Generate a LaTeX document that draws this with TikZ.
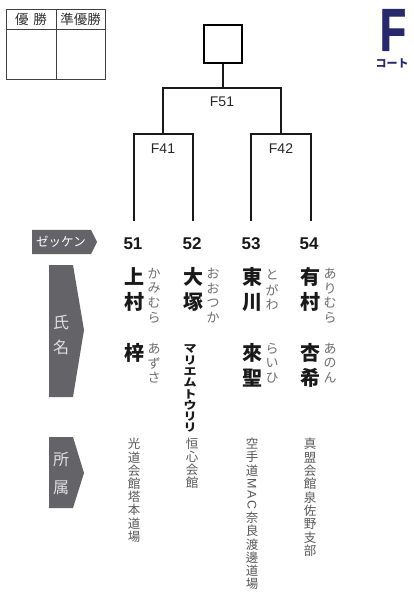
\documentclass[tikz,border=0pt]{standalone}
\usepackage{fontspec}
\setmainfont{Liberation Sans}
\newfontfamily\jp{Noto Sans CJK JP}
\newfontfamily\fbig[FakeBold=1.6]{Liberation Sans Bold}
\definecolor{tagg}{HTML}{636368}
\definecolor{navy}{HTML}{28286C}
\definecolor{furig}{HTML}{6E6E6E}
\definecolor{affg}{HTML}{585858}
\newcommand\vchars[6]{\foreach \vchr [count=\vn from 0] in {#6}{\node[#5] (#1\vn) at (#2,{#3+\vn*#4}) {\vchr};}}
\newcommand\vcharsk[6]{\foreach \vchr [count=\vn from 0] in {#6}{\node[#5] (#1\vn) at (#2,{#3+\vn*#4}) {\scalebox{1}[0.84]{\vchr}};}}
\begin{document}
\begin{tikzpicture}[x=1pt,y=-1pt,
  br/.style={line width=1.8pt, black!90, line join=miter},
  tbl/.style={line width=0.9pt, black!75},
  kan/.style={inner sep=0, font=\jp\bfseries\fontsize{20}{20}\selectfont, text=black!90},
  furi/.style={inner sep=0, font=\jp\fontsize{13}{13}\selectfont, text=furig},
  kata/.style={inner sep=0, font=\jp\bfseries\fontsize{13}{13}\selectfont, text=black!90},
  aff/.style={inner sep=0, font=\jp\fontsize{12.5}{12.5}\selectfont, text=affg},
  num/.style={inner sep=0, font=\bfseries\fontsize{17}{17}\selectfont, text=black!90},
  rnd/.style={inner sep=0, font=\fontsize{14}{14}\selectfont, text=black!85},
  tagtxt/.style={inner sep=0, font=\jp\fontsize{16}{16}\selectfont, text=black!12},
  hdr/.style={inner sep=0, font=\jp\fontsize{13.5}{13.5}\selectfont, text=black!80},
]
\useasboundingbox (0,0) rectangle (414,593);
% result table
\draw[tbl] (6,9) rectangle (105,79);
\draw[tbl] (6,29) -- (105,29);
\draw[tbl] (56,9) -- (56,79);
\node[hdr] (h1) at (31,19) {優\hspace{5pt}勝};
\node[hdr] (h2) at (80.5,19) {準優勝};
% court logo
\node[inner sep=0, font=\fbig\fontsize{60}{60}\selectfont, text=navy] (court) at (393,30) {\scalebox{0.72}[1]{F}};
\node[inner sep=0, font=\jp\bfseries\fontsize{11}{11}\selectfont, text=navy] (courtlbl) at (392,63) {コート};
% bracket
\node[draw, line width=1.4pt, minimum size=38pt, inner sep=0] (champ) at (223,44) {};
\coordinate (j51) at (223,88);
\coordinate (j41) at (163,134);
\coordinate (j42) at (281,134);
\coordinate (b51) at (134,221);
\coordinate (b52) at (193,221);
\coordinate (b53) at (251,221);
\coordinate (b54) at (311,221);
\draw[br] (champ.south) -- (j51);
\draw[br] (j41) |- (j51) -| (j42);
\draw[br] (b51) |- (j41) -| (b52);
\draw[br] (b53) |- (j42) -| (b54);
\node[rnd] (r51) at (222,102) {F51};
\node[rnd] (r41) at (163,149) {F41};
\node[rnd] (r42) at (281,149) {F42};
% tags
\fill[tagg] (32,230) -- (91,230) -- (97,242) -- (91,254) -- (32,254) -- cycle;
\node[inner sep=0, font=\jp\fontsize{12.5}{12.5}\selectfont, text=white] (tz) at (61,242) {ゼッケン};
\fill[tagg] (49,265) -- (73,265) -- (84,330) -- (73,397) -- (49,397) -- cycle;
\node[tagtxt] (ts1) at (61,322) {氏};
\node[tagtxt] (ts2) at (61,347) {名};
\fill[tagg] (49,437) -- (73,437) -- (84,473) -- (73,508) -- (49,508) -- cycle;
\node[tagtxt] (tq1) at (61,460) {所};
\node[tagtxt] (tq2) at (61,488) {属};
% numbers
\node[num] (n51) at (133,244) {51};
\node[num] (n52) at (192,244) {52};
\node[num] (n53) at (251,244) {53};
\node[num] (n54) at (309,244) {54};
% names
\vchars{k51a}{134}{277}{25}{kan}{上,村}
\vchars{k51b}{134}{353}{25}{kan}{梓}
\vchars{f51a}{154}{274}{14.5}{furi}{か,み,む,ら}
\vchars{f51b}{154}{349}{14.5}{furi}{あ,ず,さ}
\vchars{k52a}{193}{277}{25}{kan}{大,塚}
\vchars{f52a}{213}{274}{14.5}{furi}{お,お,つ,か}
\vcharsk{k52b}{190}{349}{11.25}{kata}{マ,リ,エ,ム,ト,ウ,リ,リ}
\vchars{k53a}{252}{277}{25}{kan}{東,川}
\vchars{f53a}{272}{275}{15}{furi}{と,が,わ}
\vchars{k53b}{252}{353}{25}{kan}{來,聖}
\vchars{f53b}{272}{349}{14.5}{furi}{ら,い,ひ}
\vchars{k54a}{310}{277}{25}{kan}{有,村}
\vchars{f54a}{330}{274}{14.5}{furi}{あ,り,む,ら}
\vchars{k54b}{310}{353}{25}{kan}{杏,希}
\vchars{f54b}{330}{349}{14.5}{furi}{あ,の,ん}
% affiliations
\vchars{a51}{134}{444}{13.2}{aff}{光,道,会,館,塔,本,道,場}
\vchars{a52}{192}{443.5}{13}{aff}{恒,心,会,館}
\vchars{a53a}{252}{444}{13.2}{aff}{空,手,道}
\node[aff, font=\fontsize{12.5}{12.5}\selectfont, rotate=-90] (a53m) at (252,494) {M\,A\,C};
\vchars{a53b}{252}{518}{13.2}{aff}{奈,良,渡,邊,道,場}
\vchars{a54}{310}{444}{13.4}{aff}{真,盟,会,館,泉,佐,野,支,部}
\end{tikzpicture}
\end{document}
